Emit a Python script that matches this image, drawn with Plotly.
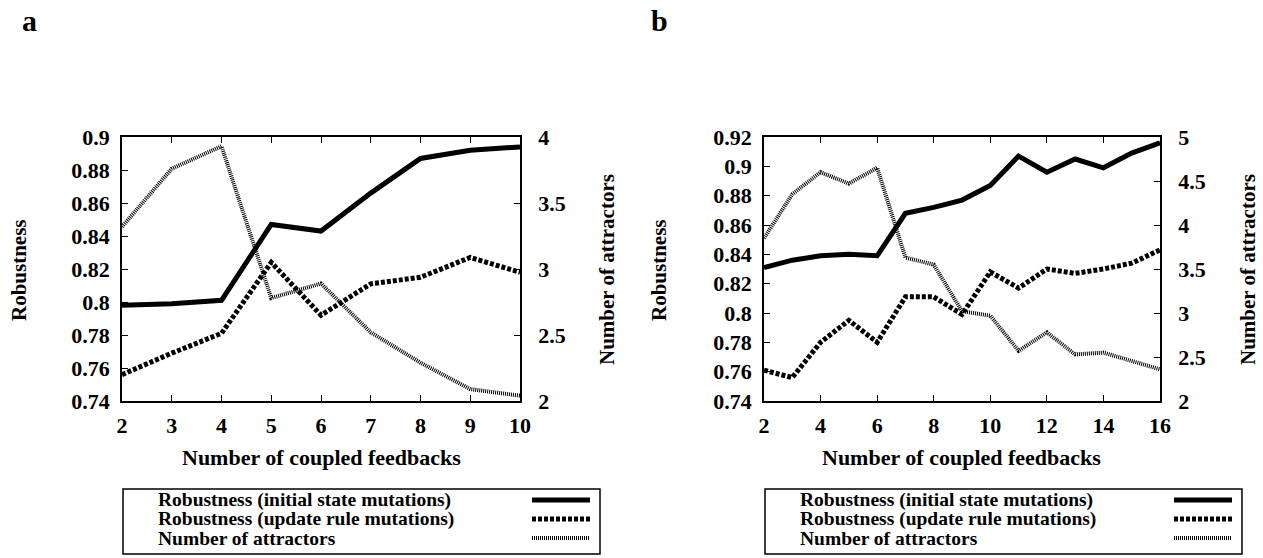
import plotly.graph_objects as go

# ---------------- data ----------------
x_a = [2, 3, 4, 5, 6, 7, 8, 9, 10]
init_a = [0.798, 0.799, 0.801, 0.847, 0.843, 0.866, 0.887, 0.892, 0.894]
update_a = [0.756, 0.769, 0.781, 0.824, 0.792, 0.811, 0.815, 0.827, 0.818]
attr_a = [3.32, 3.76, 3.93, 2.78, 2.89, 2.52, 2.29, 2.09, 2.04]

x_b = [2, 3, 4, 5, 6, 7, 8, 9, 10, 11, 12, 13, 14, 15, 16]
init_b = [0.831, 0.836, 0.839, 0.840, 0.839, 0.868, 0.872, 0.877, 0.887,
          0.907, 0.896, 0.905, 0.899, 0.909, 0.916]
update_b = [0.761, 0.756, 0.780, 0.795, 0.780, 0.811, 0.811, 0.799, 0.828,
            0.817, 0.830, 0.827, 0.830, 0.834, 0.843]
attr_b = [3.85, 4.35, 4.60, 4.47, 4.65, 3.63, 3.55, 3.02, 2.97,
          2.57, 2.78, 2.53, 2.55, 2.45, 2.36]

series_names = ["Robustness (initial state mutations)",
                "Robustness (update rule mutations)",
                "Number of attractors"]

yl_a_vals = [0.74, 0.76, 0.78, 0.80, 0.82, 0.84, 0.86, 0.88, 0.90]
yl_a_text = ["0.74", "0.76", "0.78", "0.8", "0.82", "0.84", "0.86", "0.88", "0.9"]
yr_a_vals = [2, 2.5, 3, 3.5, 4]
yr_a_text = ["2", "2.5", "3", "3.5", "4"]
xt_a = [2, 3, 4, 5, 6, 7, 8, 9, 10]
xt_a_text = ["2", "3", "4", "5", "6", "7", "8", "9", "10"]

yl_b_vals = [0.74, 0.76, 0.78, 0.80, 0.82, 0.84, 0.86, 0.88, 0.90, 0.92]
yl_b_text = ["0.74", "0.76", "0.78", "0.8", "0.82", "0.84", "0.86", "0.88", "0.9", "0.92"]
yr_b_vals = [2, 2.5, 3, 3.5, 4, 4.5, 5]
yr_b_text = ["2", "2.5", "3", "3.5", "4", "4.5", "5"]
xt_b = [2, 4, 6, 8, 10, 12, 14, 16]
xt_b_text = ["2", "4", "6", "8", "10", "12", "14", "16"]

# ---------------- styles ----------------
W, H = 1263, 558
FONT = "Liberation Serif, Times New Roman, Times, serif"
styles = [dict(color="black", width=5),
          dict(color="black", width=5, dash="4px,2px"),
          dict(color="black", width=4, dash="1px,1px")]


def px(x):
    return x / W


def py(y):
    return 1 - y / H


def b(t):
    return "<b>" + t + "</b>"


fig = go.Figure()

# panel a
fig.add_trace(go.Scatter(x=x_a, y=init_a, mode="lines", line=styles[0],
                         xaxis="x", yaxis="y", showlegend=False))
fig.add_trace(go.Scatter(x=x_a, y=update_a, mode="lines", line=styles[1],
                         xaxis="x", yaxis="y", showlegend=False))
fig.add_trace(go.Scatter(x=x_a, y=attr_a, mode="lines", line=styles[2],
                         xaxis="x", yaxis="y2", showlegend=False))
# panel b
fig.add_trace(go.Scatter(x=x_b, y=init_b, mode="lines", line=styles[0],
                         xaxis="x2", yaxis="y3", showlegend=False))
fig.add_trace(go.Scatter(x=x_b, y=update_b, mode="lines", line=styles[1],
                         xaxis="x2", yaxis="y3", showlegend=False))
fig.add_trace(go.Scatter(x=x_b, y=attr_b, mode="lines", line=styles[2],
                         xaxis="x2", yaxis="y4", showlegend=False))

tickfont = dict(family=FONT, size=22, color="black")
common = dict(showgrid=False, zeroline=False, showline=True, linecolor="black",
              linewidth=1.5, ticks="inside", ticklen=6, tickwidth=1.2,
              tickcolor="black", tickfont=tickfont, automargin=False)

dom_a = [px(122), px(520)]
dom_b = [px(764), px(1160)]
dom_y = [py(401), py(137)]

fig.update_layout(
    width=W, height=H,
    margin=dict(l=0, r=0, t=0, b=0),
    paper_bgcolor="white", plot_bgcolor="white",
    font=dict(family=FONT, color="black"),
    xaxis=dict(domain=dom_a, range=[2, 10], tickvals=xt_a,
               ticktext=[b(t) for t in xt_a_text], mirror="ticks",
               anchor="y", ticklabelstandoff=4, **common),
    yaxis=dict(domain=dom_y, range=[0.74, 0.90], tickvals=yl_a_vals,
               ticktext=[b(t) for t in yl_a_text], anchor="x",
               ticklabelstandoff=6, **common),
    yaxis2=dict(range=[2, 4], tickvals=yr_a_vals,
                ticktext=[b(t) for t in yr_a_text],
                overlaying="y", side="right", anchor="x",
                ticklabelstandoff=12, **common),
    xaxis2=dict(domain=dom_b, range=[2, 16], tickvals=xt_b,
                ticktext=[b(t) for t in xt_b_text], mirror="ticks",
                anchor="y3", ticklabelstandoff=4, **common),
    yaxis3=dict(domain=dom_y, range=[0.74, 0.92], tickvals=yl_b_vals,
                ticktext=[b(t) for t in yl_b_text], anchor="x2",
                ticklabelstandoff=6, **common),
    yaxis4=dict(range=[2, 5], tickvals=yr_b_vals,
                ticktext=[b(t) for t in yr_b_text],
                overlaying="y3", side="right", anchor="x2",
                ticklabelstandoff=12, **common),
)

ann = []
titlefont = dict(family=FONT, size=22, color="black")
vtitlefont = dict(family=FONT, size=21, color="black")
for (cx, lx, rx) in [((122 + 520) / 2, 19, 607), ((764 + 1160) / 2, 659, 1248)]:
    ann.append(dict(x=px(cx), y=py(457), xref="paper", yref="paper",
                    text=b("Number of coupled feedbacks"), showarrow=False,
                    font=titlefont, xanchor="center", yanchor="middle"))
    ann.append(dict(x=px(lx), y=py(270), xref="paper", yref="paper",
                    text=b("Robustness"), showarrow=False, textangle=-90,
                    font=vtitlefont, xanchor="center", yanchor="middle"))
    ann.append(dict(x=px(rx), y=py(270), xref="paper", yref="paper",
                    text=b("Number of attractors"), showarrow=False, textangle=-90,
                    font=vtitlefont, xanchor="center", yanchor="middle"))

letterfont = dict(family=FONT, size=30, color="black")
ann.append(dict(x=px(29), y=py(21), xref="paper", yref="paper", text=b("a"),
                showarrow=False, font=letterfont, xanchor="center", yanchor="middle"))
ann.append(dict(x=px(659), y=py(21), xref="paper", yref="paper", text=b("b"),
                showarrow=False, font=letterfont, xanchor="center", yanchor="middle"))

# legends (drawn boxes, one per panel)
shapes = []
legfont = dict(family=FONT, size=19.5, color="black")
rows = [500, 519, 538]
for (bx0, bx1, tx, sx0, sx1) in [(123, 600, 156, 532, 590),
                                  (765, 1242, 798, 1174, 1232)]:
    shapes.append(dict(type="rect", xref="paper", yref="paper",
                       x0=px(bx0), x1=px(bx1), y0=py(554), y1=py(489),
                       line=dict(color="black", width=1.5)))
    for name, st, ry in zip(series_names, styles, rows):
        ann.append(dict(x=px(tx), y=py(ry), xref="paper", yref="paper",
                        text=b(name), showarrow=False, font=legfont,
                        xanchor="left", yanchor="middle"))
        shapes.append(dict(type="line", xref="paper", yref="paper",
                           x0=px(sx0), x1=px(sx1), y0=py(ry), y1=py(ry),
                           line=st))

fig.update_layout(annotations=ann, shapes=shapes)
fig.write_html("out.html")
